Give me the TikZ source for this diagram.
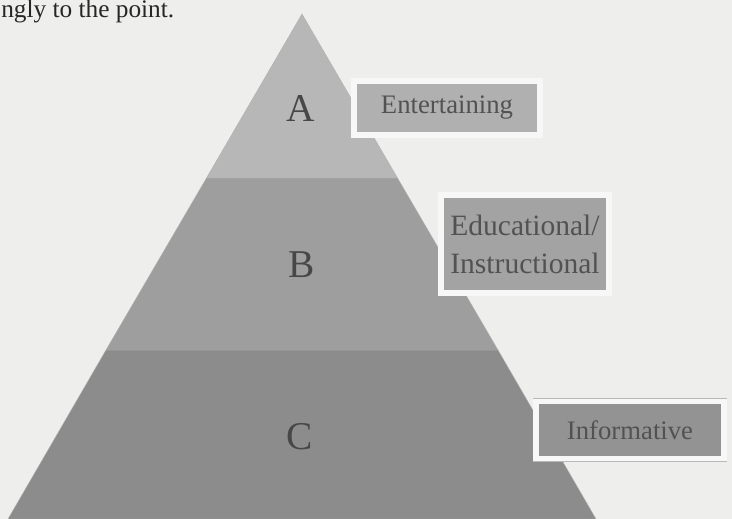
\documentclass[tikz,border=0pt]{standalone}
\usepackage{fontspec}
\setmainfont{Liberation Serif}
\usepackage{tikz}
\usetikzlibrary{positioning}
\definecolor{paper}{HTML}{EEEEEC}
\definecolor{layerA}{HTML}{B7B7B7}
\definecolor{layerB}{HTML}{9E9E9E}
\definecolor{layerC}{HTML}{8C8C8C}

\begin{document}
\begin{tikzpicture}[x=0.025cm,y=-0.025cm,
  layer/.style={draw=gray!60,line width=0.3pt},
  letter/.style={font=\fontsize{28}{30}\selectfont,text=black!72},
  tagbox/.style={draw=gray!55,double=white!94!gray,double distance=3.6pt,inner sep=0pt,
    align=center,text=black!68,font=\fontsize{19}{26}\selectfont}]
\fill[paper] (0,0) rectangle (732,519);
\useasboundingbox (0,0) rectangle (732,519);
\node[anchor=base west,inner sep=0pt,font=\fontsize{18}{20}\selectfont,text=black!85] (top) at (1,18) {ngly to the point.};
% pyramid layers
\fill[layerC,layer] (8,519) -- (106,350) -- (498,350) -- (596,519) -- cycle;
\fill[layerB,layer] (106,350) -- (206.5,178) -- (397.5,178) -- (498,350) -- cycle;
\fill[layerA,layer] (206.5,178) -- (302,14) -- (397.5,178) -- cycle;
\node[letter] (A) at (301,109) {A};
\node[letter] (B) at (302,265) {B};
\node[letter] (C) at (300,437) {C};
% labels
\node[tagbox,fill=gray!62,minimum width=4.65cm,minimum height=1.35cm] (ent) at (447,108) {Entertaining};
\node[tagbox,fill=gray!72,minimum width=4.2cm,minimum height=2.45cm,
  font=\fontsize{21}{27}\selectfont] (edu) at (525,244) {Educational/\\Instructional};
\node[tagbox,fill=gray!85,minimum width=4.7cm,minimum height=1.43cm] (inf) at (630,430) {Informative};
\end{tikzpicture}
\end{document}
